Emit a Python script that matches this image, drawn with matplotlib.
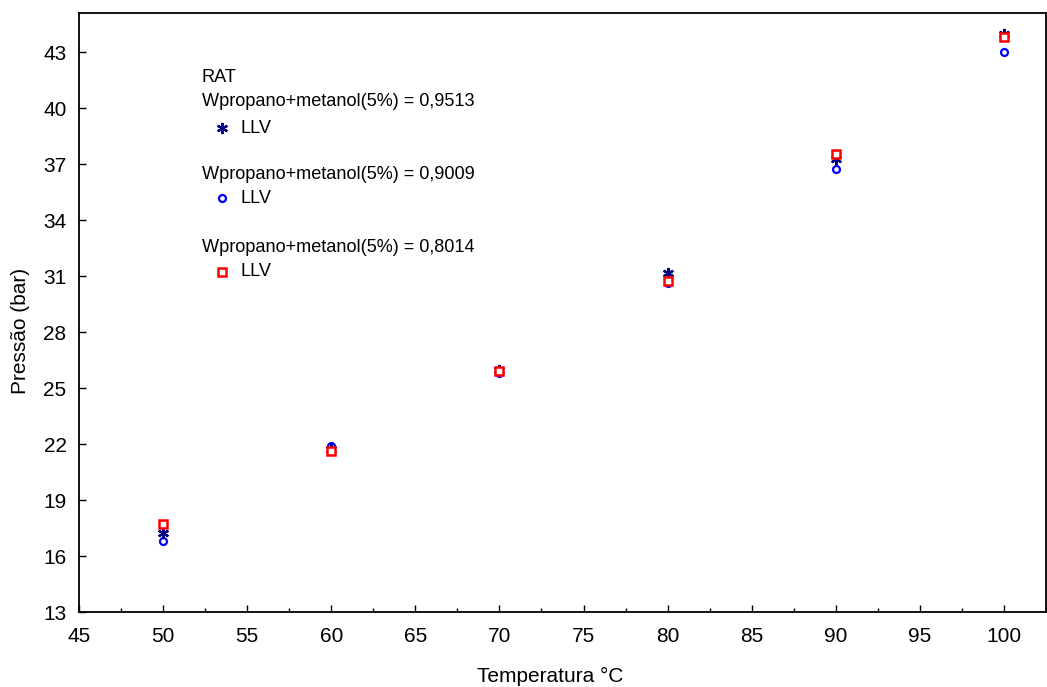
import matplotlib
matplotlib.use("Agg")
import matplotlib.pyplot as plt
from matplotlib.ticker import MultipleLocator

plt.rcParams['font.family'] = ['Liberation Sans', 'DejaVu Sans']

# Temperatures (°C) and pressures (bar) for the three propane+methanol fractions
temperatura = [50, 60, 70, 80, 90, 100]
p_09513 = [17.25, 21.73, 25.96, 31.17, 37.30, 44.00]
p_09009 = [16.82, 21.89, 25.83, 30.65, 36.77, 43.00]
p_08014 = [17.71, 21.64, 25.92, 30.75, 37.53, 43.80]

rotulos = ["Wpropano+metanol(5%) = 0,9513",
           "Wpropano+metanol(5%) = 0,9009",
           "Wpropano+metanol(5%) = 0,8014"]

x_ticks = list(range(45, 101, 5))
y_ticks = list(range(13, 44, 3))

fig = plt.figure(figsize=(10.47, 6.87), dpi=100)
ax = fig.add_axes([0.0755, 0.109, 0.9235, 0.872])

estilo_circ = dict(linestyle='none', marker='o', markersize=5, markerfacecolor='white',
                   markeredgecolor='#0000FF', markeredgewidth=1.6)
estilo_ast = dict(linestyle='none', marker=(6, 2, 0), markersize=8,
                  color='#000080', markeredgewidth=1.6)
estilo_quad = dict(linestyle='none', marker='s', markersize=6, markerfacecolor='white',
                   markeredgecolor='#FF0000', markeredgewidth=1.8)

ax.plot(temperatura, p_09009, **estilo_circ, zorder=3)
ax.plot(temperatura, p_09513, **estilo_ast, zorder=4)
ax.plot(temperatura, p_08014, **estilo_quad, zorder=5)

ax.set_xlim(45, 102.5)
ax.set_ylim(13, 45.1)
ax.set_xticks(x_ticks)
ax.set_yticks(y_ticks)
ax.xaxis.set_minor_locator(MultipleLocator(2.5))
ax.tick_params(axis='both', which='major', direction='in', length=5, width=1,
               labelsize=15, top=False, right=False)
ax.tick_params(axis='x', which='major', pad=10.5)
ax.tick_params(axis='y', which='major', pad=9)
ax.tick_params(axis='x', which='minor', direction='in', length=3, width=1, top=False)
for s in ax.spines.values():
    s.set_linewidth(1.3)

ax.set_xlabel("Temperatura °C", fontsize=15)
ax.set_ylabel("Pressão (bar)", fontsize=15)
ax.xaxis.set_label_coords(0.487, -0.107)
ax.xaxis.label.set_va('center')
ax.yaxis.set_label_coords(-0.061, 0.469)
ax.yaxis.label.set_va('center')

# Legend block drawn inside the plot area
tr = ax.transAxes
fs = 13.1
ax.text(0.127, 0.893, "RAT", transform=tr, fontsize=fs, va='center', ha='left')
leg_y = [(0.853, 0.808), (0.730, 0.691), (0.608, 0.568)]
estilos = [estilo_ast, estilo_circ, estilo_quad]
for rot, (ty, my), est in zip(rotulos, leg_y, estilos):
    ax.text(0.127, ty, rot, transform=tr, fontsize=fs, va='center', ha='left')
    ax.plot([0.148], [my], transform=tr, clip_on=False, **est)
    ax.text(0.167, my, "LLV", transform=tr, fontsize=fs, va='center', ha='left')

fig.savefig("out.png", dpi=100)
